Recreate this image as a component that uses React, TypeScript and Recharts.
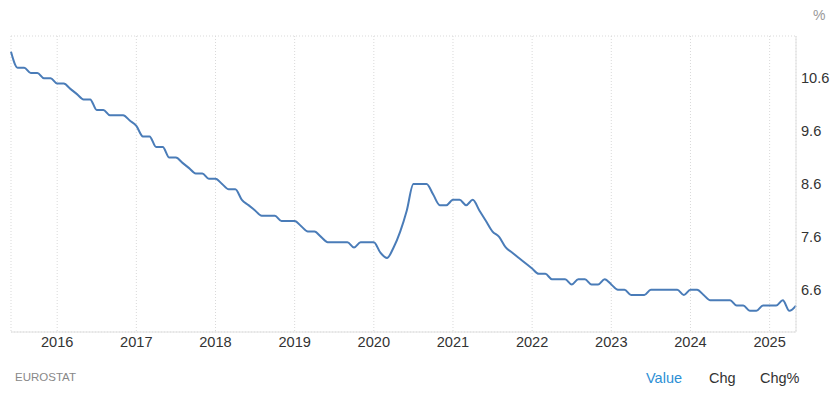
import React from 'react';
import { LineChart, Line, XAxis, YAxis, CartesianGrid } from 'recharts';

// monthly euro area unemployment rate, Jun 2015 .. May 2025
const values = [
  11.1, 10.8, 10.8, 10.7, 10.7, 10.6, 10.6, // 2015 Jun-Dec
  10.5, 10.5, 10.4, 10.3, 10.2, 10.2, 10.0, 10.0, 9.9, 9.9, 9.9, 9.8, // 2016
  9.7, 9.5, 9.5, 9.3, 9.3, 9.1, 9.1, 9.0, 8.9, 8.8, 8.8, 8.7, // 2017
  8.7, 8.6, 8.5, 8.5, 8.3, 8.2, 8.1, 8.0, 8.0, 8.0, 7.9, 7.9, // 2018
  7.9, 7.8, 7.7, 7.7, 7.6, 7.5, 7.5, 7.5, 7.5, 7.4, 7.5, 7.5, // 2019
  7.5, 7.3, 7.2, 7.4, 7.7, 8.1, 8.6, 8.6, 8.6, 8.4, 8.2, 8.2, // 2020
  8.3, 8.3, 8.2, 8.3, 8.1, 7.9, 7.7, 7.6, 7.4, 7.3, 7.2, 7.1, // 2021
  7.0, 6.9, 6.9, 6.8, 6.8, 6.8, 6.7, 6.8, 6.8, 6.7, 6.7, 6.8, // 2022
  6.7, 6.6, 6.6, 6.5, 6.5, 6.5, 6.6, 6.6, 6.6, 6.6, 6.6, 6.5, // 2023
  6.6, 6.6, 6.5, 6.4, 6.4, 6.4, 6.4, 6.3, 6.3, 6.2, 6.2, 6.3, // 2024
  6.3, 6.3, 6.4, 6.2, 6.3, // 2025 Jan-May
];

const START_YEAR = 2015;
const START_MONTH = 6;

const months: string[] = values.map((_, i) => {
  const m = START_MONTH - 1 + i;
  const y = START_YEAR + Math.floor(m / 12);
  return `${y}-${String((m % 12) + 1).padStart(2, '0')}`;
});

const yearTicks = ['2016', '2017', '2018', '2019', '2020', '2021', '2022', '2023', '2024', '2025'];
const valueTicks = [6.6, 7.6, 8.6, 9.6, 10.6];

const data = months.map((month, i) => ({ month, value: values[i] }));

const FONT = '"Liberation Sans", Arial, sans-serif';

const App: React.FC = () => {
  return (
    <div style={{ position: 'absolute', left: 0, top: 0, width: 839, height: 395, fontFamily: FONT, background: '#fff' }}>
      <div style={{ position: 'absolute', left: 813, top: 7, fontSize: 14, color: '#999' }}>%</div>

      <LineChart width={839} height={395} data={data} margin={{ top: 36, right: 0, left: 11, bottom: 43 }}>
        <CartesianGrid stroke="#d9d9d9" strokeDasharray="1 2" />
        <XAxis
          dataKey="month"
          ticks={yearTicks.map((y) => `${y}-01`)}
          tickFormatter={(v: string) => v.slice(0, 4)}
          interval={0}
          height={20}
          tickSize={0}
          tickMargin={5}
          axisLine={{ stroke: '#e0e0e0' }}
          tick={{ fontSize: 14.6, fill: '#333', fontFamily: FONT }}
        />
        <YAxis yAxisId="left" orientation="left" width={0} tick={false} tickLine={false} axisLine={{ stroke: '#e0e0e0' }} domain={[5.8, 11.4]} />
        <YAxis
          yAxisId="right"
          orientation="right"
          width={43}
          domain={[5.8, 11.4]}
          ticks={valueTicks}
          tickFormatter={(v: number) => v.toFixed(1)}
          tickSize={0}
          tickMargin={5}
          allowDataOverflow
          axisLine={{ stroke: '#e0e0e0' }}
          tick={{ fontSize: 14.6, fill: '#333', fontFamily: FONT }}
        />
        <Line
          yAxisId="right"
          type="monotone"
          dataKey="value"
          stroke="#4a7cb8"
          strokeWidth={2}
          dot={false}
          isAnimationActive={false}
        />
      </LineChart>

      <div style={{ position: 'absolute', left: 15, top: 371, fontSize: 11.5, color: '#888' }}>EUROSTAT</div>
      <div style={{ position: 'absolute', left: 646, top: 370, fontSize: 14.5, color: '#2d8fd5' }}>Value</div>
      <div style={{ position: 'absolute', left: 709, top: 370, fontSize: 14.5, color: '#333' }}>Chg</div>
      <div style={{ position: 'absolute', left: 760, top: 370, fontSize: 14.5, color: '#333' }}>Chg%</div>
    </div>
  );
};

export default App;
